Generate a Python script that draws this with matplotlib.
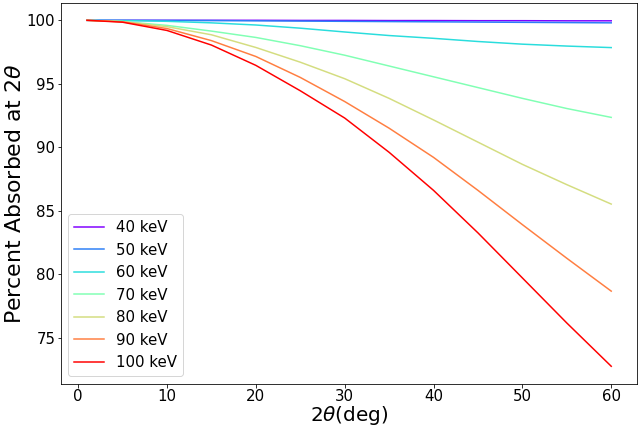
import matplotlib
matplotlib.use("Agg")
import matplotlib.pyplot as plt
import numpy as np

# 2theta sample points (deg)
two_theta = [1, 5, 10, 15, 20, 25, 30, 35, 40, 45, 50, 55, 60]

energies = [40, 50, 60, 70, 80, 90, 100]  # keV

# percent absorbed
abs_40 = [100, 100, 100, 100, 100, 99.99, 99.99, 99.98, 99.98, 99.97, 99.97, 99.96, 99.96]
abs_50 = [100, 100, 99.99, 99.98, 99.96, 99.94, 99.92, 99.9, 99.88, 99.86, 99.84, 99.82, 99.8]
abs_60 = [100, 99.98, 99.92, 99.8, 99.63, 99.38, 99.08, 98.8, 98.58, 98.33, 98.12, 97.97, 97.85]
abs_70 = [100, 99.9, 99.6, 99.15, 98.65, 98.0, 97.25, 96.4, 95.55, 94.7, 93.85, 93.05, 92.35]
abs_80 = [100, 99.9, 99.5, 98.86, 97.86, 96.7, 95.4, 93.85, 92.15, 90.4, 88.65, 87.05, 85.52]
abs_90 = [100, 99.88, 99.35, 98.4, 97.15, 95.5, 93.6, 91.5, 89.2, 86.6, 83.9, 81.25, 78.66]
abs_100 = [100, 99.85, 99.2, 98.05, 96.45, 94.45, 92.3, 89.6, 86.6, 83.25, 79.7, 76.15, 72.74]


def main():
    series = [abs_40, abs_50, abs_60, abs_70, abs_80, abs_90, abs_100]
    colors = plt.cm.rainbow(np.linspace(0, 1, len(energies)))

    fig, ax = plt.subplots(figsize=(640 / 72, 430 / 72), dpi=72)
    fig.subplots_adjust(left=0.095, right=0.996, bottom=0.108, top=0.993)

    for e, vals, c in zip(energies, series, colors):
        ax.plot(two_theta, vals, color=c, label=f"{e} keV")

    ax.set_xlabel(r"2$\theta$(deg)", fontsize=20, labelpad=0)
    ax.set_ylabel(r"Percent Absorbed at 2$\theta$", fontsize=22, labelpad=2)
    ax.tick_params(labelsize=15, pad=2)
    ax.legend(loc="lower left", fontsize=15)

    fig.savefig("out.png", dpi=72)


if __name__ == "__main__":
    main()
